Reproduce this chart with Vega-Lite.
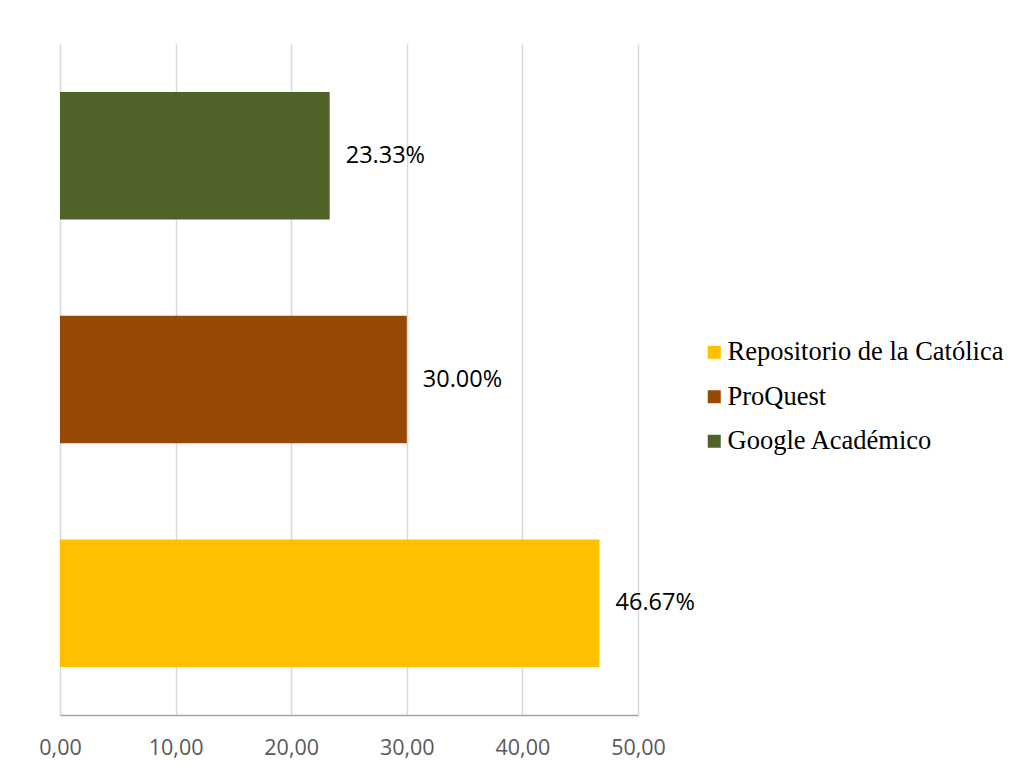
{
  "$schema": "https://vega.github.io/schema/vega-lite/v6.json",
  "autosize": {"type": "none"},
  "padding": {"left": 60, "top": 44, "right": 384, "bottom": 54},
  "width": 578,
  "height": 671,
  "background": "white",
  "data": {
    "values": [
      {"fuente": "Google Académico", "valor": 23.33, "label": "23.33%"},
      {"fuente": "ProQuest", "valor": 30.00, "label": "30.00%"},
      {"fuente": "Repositorio de la Católica", "valor": 46.67, "label": "46.67%"}
    ]
  },
  "encoding": {
    "y": {
      "field": "fuente",
      "type": "nominal",
      "sort": ["Google Académico", "ProQuest", "Repositorio de la Católica"],
      "scale": {"paddingInner": 0.43, "paddingOuter": 0.215},
      "axis": null
    },
    "x": {
      "field": "valor",
      "type": "quantitative",
      "scale": {"domain": [0, 50], "nice": false},
      "axis": {
        "values": [0, 10, 20, 30, 40, 50],
        "title": null,
        "grid": true,
        "gridColor": "#D9D9D9",
        "gridWidth": 1.5,
        "ticks": false,
        "domainColor": "#A6A6A6",
        "domainWidth": 1.5,
        "labelExpr": "replace(format(datum.value, '.2f'), '.', ',')",
        "labelFont": "Open Sans",
        "labelFontSize": 21.5,
        "labelColor": "#595959",
        "labelPadding": 22,
        "labelFlush": false
      }
    }
  },
  "layer": [
    {
      "mark": {"type": "bar"},
      "encoding": {
        "color": {
          "field": "fuente",
          "type": "nominal",
          "scale": {
            "domain": ["Repositorio de la Católica", "ProQuest", "Google Académico"],
            "range": ["#FFC000", "#984807", "#4F6228"]
          },
          "legend": {
            "title": null,
            "orient": "none",
            "legendX": 641,
            "legendY": 295,
            "padding": 0,
            "symbolType": "square",
            "symbolSize": 169,
            "symbolStrokeWidth": 0,
            "symbolOpacity": 1,
            "labelFont": "Liberation Serif",
            "labelFontSize": 26.5,
            "labelColor": "#000000",
            "labelOffset": 0,
            "rowPadding": 17.5,
            "labelLimit": 400
          }
        }
      }
    },
    {
      "mark": {
        "type": "text",
        "align": "left",
        "baseline": "middle",
        "dx": 16,
        "font": "Open Sans",
        "fontSize": 23.5,
        "color": "#000000"
      },
      "encoding": {
        "text": {"field": "label"}
      }
    }
  ],
  "config": {"view": {"stroke": null}}
}
